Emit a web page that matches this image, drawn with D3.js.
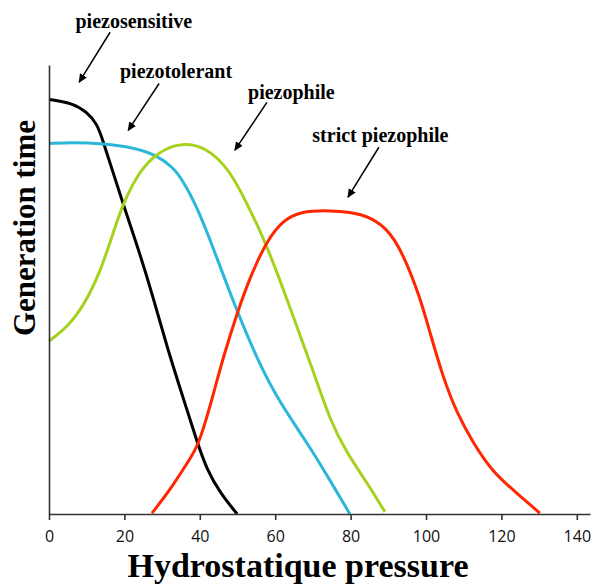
<!DOCTYPE html>
<html>
<head>
<meta charset="utf-8">
<script src="https://cdn.jsdelivr.net/npm/d3@7"></script>
<style>
  body { margin: 0; background: #fff; }
  .tick text { font-family: "Open Sans", sans-serif; font-size: 16px; fill: #111; }
  .axis path, .axis line { stroke: #333; stroke-width: 1.6; }
  .title { font-family: "Liberation Serif", "Times New Roman", serif; font-weight: bold; fill: #000; }
</style>
</head>
<body>
<div id="chart"></div>
<script>
// pressure (x) vs generation time (arbitrary units)
const piezosensitive = [[0, 98.8], [6.4, 97.9], [10.1, 95.7], [12.7, 93.1], [14.3, 89.0], [16.2, 83.6],
  [19.6, 74.0], [24.1, 62.1], [27.6, 51.7], [31.3, 39.8], [35.5, 27.9], [39.3, 17.1], [41.9, 10.5],
  [45.4, 5.0], [49.9, 0]];
const piezotolerant = [[0, 88.3], [6.4, 88.6], [14.3, 88.3], [22.3, 87.4], [28.6, 85.5], [32.9, 82.6],
  [35.5, 79.5], [39.3, 73.1], [43.5, 63.6], [48.0, 52.6], [55.2, 36.7], [61.3, 26.4], [68.4, 17.1],
  [74.5, 8.1], [79.8, 0]];
const piezophile = [[0, 41.2], [4.8, 44.5], [9.0, 49.3], [13.5, 57.4], [17.0, 66.9], [19.6, 74.0],
  [24.1, 81.9], [28.6, 86.0], [34.7, 88.6], [41.9, 87.4], [48.0, 81.9], [52.5, 74.0], [56.8, 66.0],
  [61.3, 55.7], [65.8, 44.5], [70.0, 34.3], [74.5, 22.4], [79.0, 14.5], [84.4, 7.4], [89.1, 0.5]];
const strictPiezophile = [[27.3, 0.2], [32.1, 5.7], [36.6, 12.1], [39.5, 16.0], [42.7, 25.5], [46.2, 37.4],
  [49.9, 47.9], [53.3, 56.4], [57.8, 65.2], [62.1, 70.0], [66.6, 72.1], [74.5, 72.4], [83.3, 71.7],
  [89.7, 68.3], [93.9, 62.1], [98.4, 51.7], [101.1, 43.1], [104.5, 32.6], [108.2, 24.0], [112.5, 16.9],
  [117.8, 9.8], [124.1, 5.0], [130.2, 0.2]];

const xTicks = [0, 20, 40, 60, 80, 100, 120, 140];

// label text position and arrow (from -> to), all in data units
const labels = [
  { text: "piezosensitive", at: [22.5, 115.7], from: [16.2, 114.8], to: [8.0, 102.9] },
  { text: "piezotolerant", at: [33.7, 104.0], from: [29.2, 102.6], to: [21.0, 91.4] },
  { text: "piezophile", at: [64.3, 99.0], from: [57.8, 98.1], to: [49.3, 86.7] },
  { text: "strict piezophile", at: [87.9, 88.6], from: [87.5, 87.4], to: [79.3, 75.5] }
];

const series = [
  { name: "piezosensitive", values: piezosensitive, color: "#000000" },
  { name: "piezotolerant", values: piezotolerant, color: "#2ab7d8" },
  { name: "piezophile", values: piezophile, color: "#a6d11c" },
  { name: "strict piezophile", values: strictPiezophile, color: "#ff2600" }
];

const width = 591, height = 585;

const svg = d3.select("#chart").append("svg")
  .attr("width", width)
  .attr("height", height);

const x = d3.scaleLinear().domain([0, 143.5]).range([49, 590]);
const y = d3.scaleLinear().domain([0, 107]).range([514, 65]);

svg.append("defs").append("marker")
  .attr("id", "head")
  .attr("viewBox", "0 0 10 10")
  .attr("refX", 9).attr("refY", 5)
  .attr("markerWidth", 9).attr("markerHeight", 9)
  .attr("markerUnits", "userSpaceOnUse")
  .attr("orient", "auto")
  .append("path")
  .attr("d", "M0,0.5 L10,5 L0,9.5 Z")
  .attr("fill", "#000");

// basis smooths out the small reading errors between points
const line = d3.line()
  .x(d => x(d[0]))
  .y(d => y(d[1]))
  .curve(d3.curveBasis);

svg.selectAll(".curve")
  .data(series)
  .join("path")
  .attr("class", "curve")
  .attr("d", d => line(d.values))
  .attr("fill", "none")
  .attr("stroke", d => d.color)
  .attr("stroke-width", 3);

// axes
svg.append("g")
  .attr("class", "axis")
  .attr("transform", "translate(0," + y(0) + ")")
  .call(d3.axisBottom(x).tickValues(xTicks).tickSize(6).tickSizeOuter(0).tickPadding(8))
  .call(g => g.selectAll(".tick text").attr("dy", "0.9em"));

svg.append("g")
  .attr("class", "axis")
  .attr("transform", "translate(" + x(0) + ",0)")
  .call(d3.axisLeft(y).tickValues([]).tickSizeOuter(0));

svg.append("text")
  .attr("class", "title")
  .attr("text-anchor", "middle")
  .attr("x", 298).attr("y", 577)
  .style("font-size", "34px")
  .text("Hydrostatique pressure");

svg.append("text")
  .attr("class", "title")
  .attr("text-anchor", "middle")
  .attr("transform", "translate(35,228) rotate(-90)")
  .style("font-size", "31px")
  .text("Generation time");

// annotations
svg.selectAll(".arrow")
  .data(labels)
  .join("line")
  .attr("class", "arrow")
  .attr("x1", d => x(d.from[0])).attr("y1", d => y(d.from[1]))
  .attr("x2", d => x(d.to[0])).attr("y2", d => y(d.to[1]))
  .attr("stroke", "#000")
  .attr("stroke-width", 1.5)
  .attr("marker-end", "url(#head)");

svg.selectAll(".label")
  .data(labels)
  .join("text")
  .attr("class", "title label")
  .attr("text-anchor", "middle")
  .attr("x", d => x(d.at[0]))
  .attr("y", d => y(d.at[1]))
  .style("font-size", "20px")
  .text(d => d.text);
</script>
</body>
</html>
